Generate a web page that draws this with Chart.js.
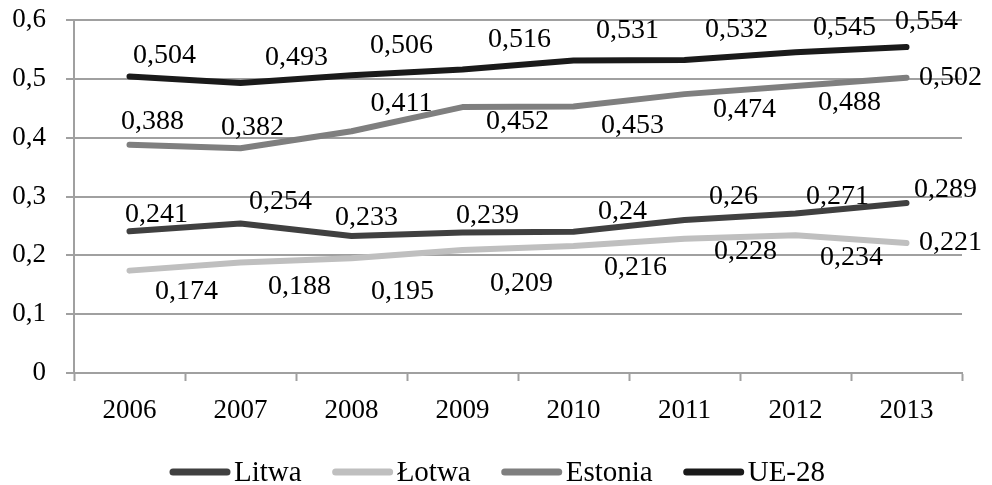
<!DOCTYPE html>
<html>
<head>
<meta charset="utf-8">
<script src="https://cdn.jsdelivr.net/npm/chart.js@4/dist/chart.umd.min.js"></script>
<style>
  html, body { margin: 0; padding: 0; background: #fff; }
  #wrap { width: 992px; height: 485px; }
</style>
</head>
<body>
<div id="wrap"><canvas id="chart" width="992" height="485"></canvas></div>
<script>
(function () {
  'use strict';

  var YEARS = ['2006', '2007', '2008', '2009', '2010', '2011', '2012', '2013'];
  var LITWA = [0.241, 0.254, 0.233, 0.239, 0.24, 0.26, 0.271, 0.289];
  var LOTWA = [0.174, 0.188, 0.195, 0.209, 0.216, 0.228, 0.234, 0.221];
  var ESTONIA = [0.388, 0.382, 0.411, 0.452, 0.453, 0.474, 0.488, 0.502];
  var UE28 = [0.504, 0.493, 0.506, 0.516, 0.531, 0.532, 0.545, 0.554];
  var Y_TICKS = [0, 0.1, 0.2, 0.3, 0.4, 0.5, 0.6];

  var FONT = "'Liberation Serif', 'Times New Roman', serif";
  var AXIS_SIZE = 27;
  var LABEL_SIZE = 28;
  var LEGEND_SIZE = 29;

  // where each value label sits relative to its point (px)
  var LABEL_OFFSETS = {
    'Litwa':   [[27, -17], [40, -22], [15, -18], [25, -17], [49, -20], [49, -23], [42, -17], [39, -13]],
    'Łotwa':   [[57, 21], [59, 24], [51, 33], [59, 34], [62, 22], [61, 13], [56, 22], [44, 0]],
    'Estonia': [[23, -23], [12, -21], [50, -28], [55, 15], [59, 19], [60, 16], [54, 17], [44, 0]],
    'UE-28':   [[35, -21], [56, -25], [50, -30], [57, -30], [54, -30], [52, -30], [49, -25], [20, -25]]
  };

  function fmt(v) { return String(v).replace('.', ','); }

  function series(label, data, color) {
    return {
      label: label,
      data: data,
      borderColor: color,
      backgroundColor: color,
      borderWidth: 6,
      borderCapStyle: 'round',
      borderJoinStyle: 'round',
      pointRadius: 0,
      tension: 0,
      fill: false
    };
  }

  /* value labels next to every point */
  var valueLabels = {
    id: 'valueLabels',
    afterDatasetsDraw: function (chart) {
      var ctx = chart.ctx;
      ctx.save();
      ctx.font = LABEL_SIZE + 'px ' + FONT;
      ctx.fillStyle = '#000';
      ctx.textAlign = 'center';
      ctx.textBaseline = 'middle';
      chart.data.datasets.forEach(function (ds, i) {
        var offs = LABEL_OFFSETS[ds.label];
        chart.getDatasetMeta(i).data.forEach(function (pt, j) {
          ctx.fillText(fmt(ds.data[j]), pt.x + offs[j][0], pt.y + offs[j][1]);
        });
      });
      ctx.restore();
    }
  };

  /* legend drawn by hand: long thick line, text right next to it */
  var legendRow = {
    id: 'legendRow',
    afterDraw: function (chart) {
      var ctx = chart.ctx;
      var x = 170, y = 472;
      ctx.save();
      ctx.font = LEGEND_SIZE + 'px ' + FONT;
      ctx.textBaseline = 'middle';
      ctx.textAlign = 'left';
      chart.data.datasets.forEach(function (ds) {
        ctx.strokeStyle = ds.borderColor;
        ctx.lineWidth = 7;
        ctx.lineCap = 'round';
        ctx.beginPath();
        ctx.moveTo(x + 3, y);
        ctx.lineTo(x + 57, y);
        ctx.stroke();
        ctx.fillStyle = '#000';
        ctx.fillText(ds.label, x + 64, y + 1);
        x += 64 + ctx.measureText(ds.label).width + 31;
      });
      ctx.restore();
    }
  };

  new Chart(document.getElementById('chart').getContext('2d'), {
    type: 'line',
    data: {
      labels: YEARS,
      datasets: [
        series('Litwa', LITWA, '#404040'),
        series('Łotwa', LOTWA, '#bfbfbf'),
        series('Estonia', ESTONIA, '#7f7f7f'),
        series('UE-28', UE28, '#1a1a1a')
      ]
    },
    options: {
      responsive: false,
      animation: false,
      layout: { padding: { top: 20, right: 30, bottom: 0, left: 0 } },
      plugins: { legend: { display: false }, tooltip: { enabled: false } },
      scales: {
        x: {
          offset: true,
          afterFit: function (s) { s.height = 112; },
          grid: {
            offset: true,
            drawOnChartArea: false,
            drawTicks: true,
            tickLength: 8,
            tickWidth: 2,
            tickColor: '#a0a0a0'
          },
          border: { color: '#a0a0a0', width: 2 },
          ticks: { color: '#000', padding: 14, font: { family: FONT, size: AXIS_SIZE } }
        },
        y: {
          min: 0,
          max: 0.6,
          afterFit: function (s) { s.width = 74; s.paddingTop = 0; s.paddingBottom = 0; },
          afterBuildTicks: function (s) { s.ticks = Y_TICKS.map(function (v) { return { value: v }; }); },
          grid: { color: '#a0a0a0', lineWidth: 2, tickLength: 8 },
          border: { color: '#a0a0a0', width: 2 },
          ticks: {
            color: '#000',
            padding: 20,
            font: { family: FONT, size: AXIS_SIZE },
            callback: function (v) { return fmt(v); }
          }
        }
      }
    },
    plugins: [valueLabels, legendRow]
  });
})();
</script>
</body>
</html>
